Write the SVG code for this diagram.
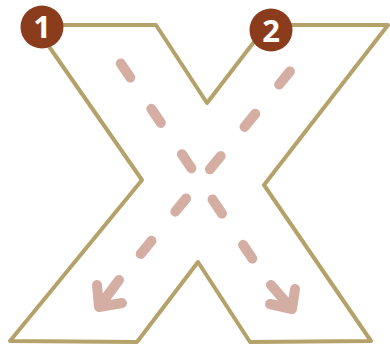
<svg xmlns="http://www.w3.org/2000/svg" width="390" height="352" viewBox="0 0 390 352">
  <style>
    .outline { fill: none; stroke: #b5a26b; stroke-width: 4; stroke-linejoin: round; }
    .dash { fill: none; stroke: #d5aea3; stroke-width: 10; stroke-linecap: round; stroke-dasharray: 17 37.7; }
    .head { fill: none; stroke: #d5aea3; stroke-width: 10; stroke-linecap: round; stroke-linejoin: round; }
    .badge { fill: #8a3c1d; }
    .num { fill: #ffffff; font-family: "Open Sans", "Liberation Sans", sans-serif; font-weight: bold; font-size: 31px; text-anchor: middle; }
  </style>
  <g id="letter-x">
    <path class="outline" d="M34,25 L156,25 L207,103 L267,25 L388,25 L264,185 L371,341 L250,342 L198,262 L137,342 L10,341 L142,180 Z"/>
  </g>
  <g id="connectors">
    <path class="dash" d="M120.75,63.45 L252.3,258.5"/>
    <path class="head" d="M271,285 L292,309 M295,289 L292,309 L270,304"/>
    <path class="dash" d="M289.9,71.4 L140.6,254.1"/>
    <path class="head" d="M119,280 L99,307 M97,285 L99,307 L122,303"/>
  </g>
  <g id="step-1">
    <circle class="badge" cx="42" cy="27" r="21.5"/>
    <text class="num" x="42" y="38.3">1</text>
  </g>
  <g id="step-2">
    <circle class="badge" cx="271" cy="30" r="21.5"/>
    <text class="num" x="271" y="41.5">2</text>
  </g>
</svg>
